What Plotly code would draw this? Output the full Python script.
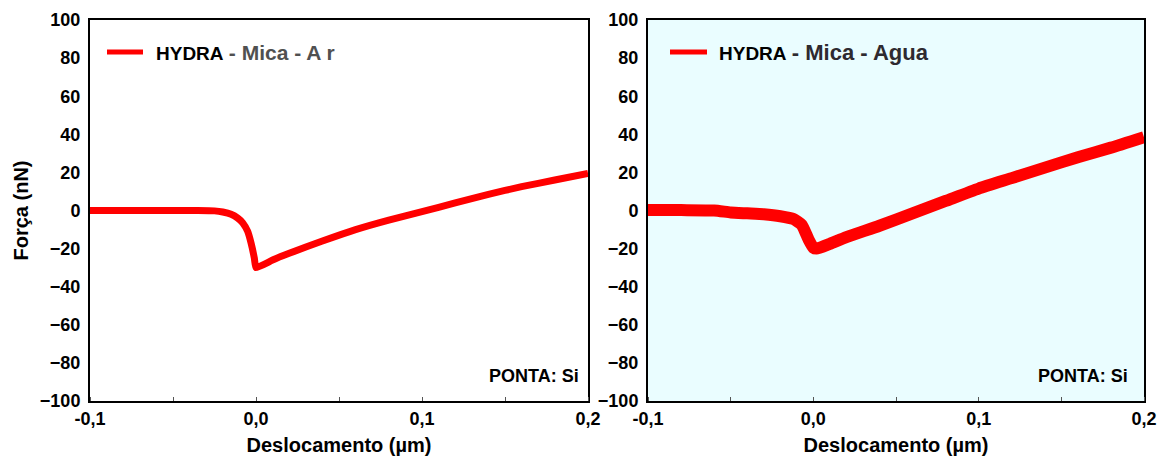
import plotly.graph_objects as go

# Force-displacement curves (HYDRA cantilever on mica)
x_ar = [-0.1, -0.06, -0.035, -0.025, -0.02, -0.015, -0.011, -0.008, -0.005, -0.003, -0.001,
        0.0, 0.01, 0.02, 0.04, 0.06, 0.08, 0.1, 0.12, 0.14, 0.16, 0.18, 0.2]
f_ar = [0, 0, 0, -0.2, -0.8, -2, -4, -6.5, -11, -17, -25,
        -30, -26, -22.5, -16, -10, -5, -0.6, 4, 8.5, 12.5, 16, 19.5]

x_agua = [-0.1, -0.08, -0.06, -0.05, -0.04, -0.03, -0.02, -0.012, -0.007, -0.003, 0.0,
          0.002, 0.01, 0.02, 0.04, 0.06, 0.08, 0.1, 0.12, 0.14, 0.16, 0.18, 0.2]
f_agua = [0.3, 0.2, 0, -1, -1.5, -2, -3, -4.5, -7.5, -15, -19.5,
          -20, -17.5, -14, -8, -1.5, 5, 11.5, 17, 22.5, 28, 33, 38.5]

x_ticks = [-0.1, 0.0, 0.1, 0.2]
x_tick_labels = ["-0,1", "0,0", "0,1", "0,2"]
y_ticks = list(range(-100, 101, 20))

FONT = "Liberation Sans, Arial, sans-serif"
RED = "#ff0000"
W, H = 1168, 458

label_ar = ('<b>HYDRA</b> <span style="font-size:21px;color:#505050">'
            '<b>- Mica - A r</b></span>')
label_agua = ('<b>HYDRA</b> <span style="font-size:22px;color:#2e2a30">'
              '<b>- Mica - Agua</b></span>')

fig = go.Figure()
fig.add_trace(go.Scatter(x=x_ar, y=f_ar, mode="lines", showlegend=False,
                         line=dict(color=RED, width=7, shape="spline", smoothing=0.4),
                         xaxis="x", yaxis="y"))
fig.add_trace(go.Scatter(x=x_agua, y=f_agua, mode="lines", showlegend=False,
                         line=dict(color=RED, width=12, shape="spline", smoothing=0.5),
                         xaxis="x2", yaxis="y2"))

tickfont = dict(family=FONT, size=18, color="black", weight="bold")
xaxis_common = dict(
    range=[-0.1, 0.2], tickvals=x_ticks, ticktext=x_tick_labels, automargin=False,
    showgrid=False, zeroline=False, showline=True, linecolor="black", linewidth=2,
    mirror=True, ticks="", tickfont=tickfont,
    minor=dict(dtick=0.05, tick0=-0.1, ticks="inside", ticklen=4, tickcolor="#555555",
               tickwidth=1, showgrid=False),
    title=dict(text="<b>Deslocamento (µm)</b>", font=dict(family=FONT, size=20, color="black"),
               standoff=10),
)
yaxis_common = dict(
    range=[-100, 100], tickvals=y_ticks, showgrid=False, zeroline=False, automargin=False,
    showline=True, linecolor="black", linewidth=2, mirror=True, ticks="",
    ticklabelstandoff=4, tickfont=tickfont,
)

# legend glyphs (line sample + label) for each panel
legend_items = [(107, 143, 154, label_ar), (670, 707, 717, label_agua)]
shapes = [dict(type="rect", xref="x2 domain", yref="y2 domain", x0=0, x1=1, y0=0, y1=1,
               fillcolor="#eafdff", line=dict(width=0), layer="below")]
annotations = []
for x0, x1, xt, label in legend_items:
    yl = 1 - 52 / H
    shapes.append(dict(type="line", xref="paper", yref="paper", x0=x0 / W, x1=x1 / W,
                       y0=yl, y1=yl, line=dict(color=RED, width=5)))
    annotations.append(dict(text=label, xref="paper", yref="paper", x=xt / W, y=yl,
                            xanchor="left", yanchor="middle", showarrow=False,
                            font=dict(family=FONT, size=19, color="black")))

annotations += [
    dict(text="<b>PONTA: Si</b>", xref="x domain", yref="y domain", x=0.986, y=0.066,
         xanchor="right", yanchor="middle", showarrow=False,
         font=dict(family=FONT, size=18, color="black")),
    dict(text="<b>PONTA: Si</b>", xref="x2 domain", yref="y2 domain", x=0.972, y=0.066,
         xanchor="right", yanchor="middle", showarrow=False,
         font=dict(family=FONT, size=18, color="black")),
]

fig.update_layout(
    width=W, height=H,
    margin=dict(l=0, r=0, t=0, b=0),
    paper_bgcolor="white",
    plot_bgcolor="white",
    showlegend=False,
    xaxis=dict(domain=[90 / W, 588 / W], anchor="y", **xaxis_common),
    yaxis=dict(domain=[1 - 401 / H, 1 - 20 / H], anchor="x",
               title=dict(text="<b>Força (nN)</b>", font=dict(family=FONT, size=20, color="black"),
                          standoff=6),
               **yaxis_common),
    xaxis2=dict(domain=[648 / W, 1144 / W], anchor="y2", **xaxis_common),
    yaxis2=dict(domain=[1 - 401 / H, 1 - 20 / H], anchor="x2", **yaxis_common),
    shapes=shapes,
    annotations=annotations,
)

fig.write_html("out.html")
